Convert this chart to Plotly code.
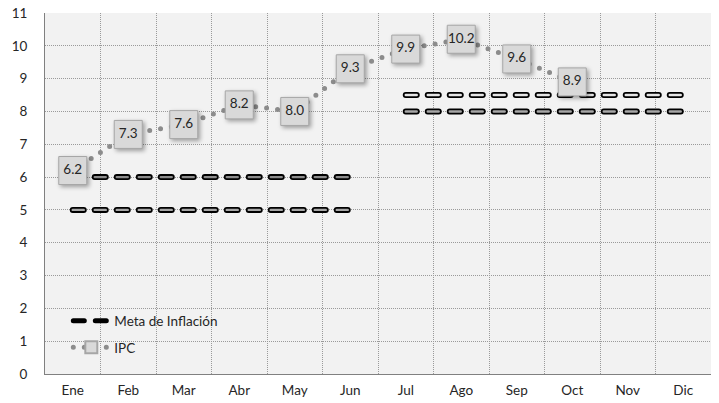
import plotly.graph_objects as go

meses = ["Ene", "Feb", "Mar", "Abr", "May", "Jun", "Jul", "Ago", "Sep", "Oct", "Nov", "Dic"]
ipc = [6.2, 7.3, 7.6, 8.2, 8.0, 9.3, 9.9, 10.2, 9.6, 8.9, None, None]
meta_inf = [5, 5, 5, 5, 5, 5, 8, 8, 8, 8, 8, 8]
meta_sup = [6, 6, 6, 6, 6, 6, 8.5, 8.5, 8.5, 8.5, 8.5, 8.5]
y_ticks = list(range(0, 12))

FONT = "Lato"
fig = go.Figure()

tramos = [(0, 6), (6, 12)]
first = True
for serie, inner_cols in ((meta_inf, ("#a6a6a6", "#a6a6a6")), (meta_sup, ("#8c8c8c", "#e6e6e6"))):
    for (a, b), icol in zip(tramos, inner_cols):
        fig.add_trace(go.Scatter(
            x=meses[a:b], y=serie[a:b], mode="lines",
            line=dict(color="#000000", width=6, dash="11px,11px"),
            name="Meta de Inflación", legendgroup="meta", showlegend=first,
            hoverinfo="skip"))
        fig.add_trace(go.Scatter(
            x=meses[a:b], y=serie[a:b], mode="lines",
            line=dict(color=icol, width=2.4, dash="11px,11px"),
            name="Meta de Inflación", legendgroup="meta", showlegend=False,
            hoverinfo="skip"))
        first = False

fig.add_trace(go.Scatter(
    x=meses, y=ipc, mode="lines+markers", name="IPC", legendgroup="ipc",
    line=dict(color="#8c8c8c", width=5, dash="0px,11px"),
    marker=dict(symbol="square", size=28, color="#d9d9d9",
                line=dict(color="#a6a6a6", width=1)),
    connectgaps=False))

fig.add_trace(go.Scatter(
    x=meses, y=ipc, mode="text", text=[("%.1f" % v) if v is not None else "" for v in ipc],
    textposition="middle center", textfont=dict(family=FONT, size=13.5, color="#262626"),
    showlegend=False, hoverinfo="skip"))

fig.update_layout(
    width=719, height=403,
    margin=dict(l=45, r=8, t=13, b=29),
    paper_bgcolor="#ffffff", plot_bgcolor="#f2f2f2",
    font=dict(family=FONT, size=13.5, color="#262626"),
    showlegend=True,
    legend=dict(x=0.035, xanchor="left", y=0.19, yanchor="top", itemwidth=36,
                bgcolor="rgba(0,0,0,0)", traceorder="grouped", tracegroupgap=6,
                itemsizing="constant", font=dict(family=FONT, size=13.5, color="#262626")),
    xaxis=dict(type="category", categoryorder="array", categoryarray=meses,
               range=[-0.5, 11.5], automargin=False,
               tickson="boundaries", showgrid=True, gridcolor="#9a9a9a", griddash="1px,1px",
               gridwidth=1, showline=True, linecolor="#808080", linewidth=1,
               ticks="", ticklabelstandoff=4, zeroline=False, fixedrange=True),
    yaxis=dict(range=[0, 11], tickvals=y_ticks, showgrid=True, gridcolor="#9a9a9a",
               automargin=False,
               griddash="1px,1px", gridwidth=1, showline=True, linecolor="#808080",
               linewidth=1, ticks="", ticklabelstandoff=14, zeroline=False, fixedrange=True),
)

post = """
document.body.style.margin = '0';
document.body.style.padding = '0';
var gd = document.getElementById('{plot_id}');
gd.querySelectorAll('path.js-line').forEach(function(p){ p.style.strokeLinecap = 'round'; });
gd.querySelectorAll('.scatterlayer .trace path.point').forEach(function(p){
  p.style.filter = 'drop-shadow(2px 2px 2px rgba(0,0,0,0.35))';
});
"""
fig.write_html("out.html", post_script=post, config={"displayModeBar": False})
